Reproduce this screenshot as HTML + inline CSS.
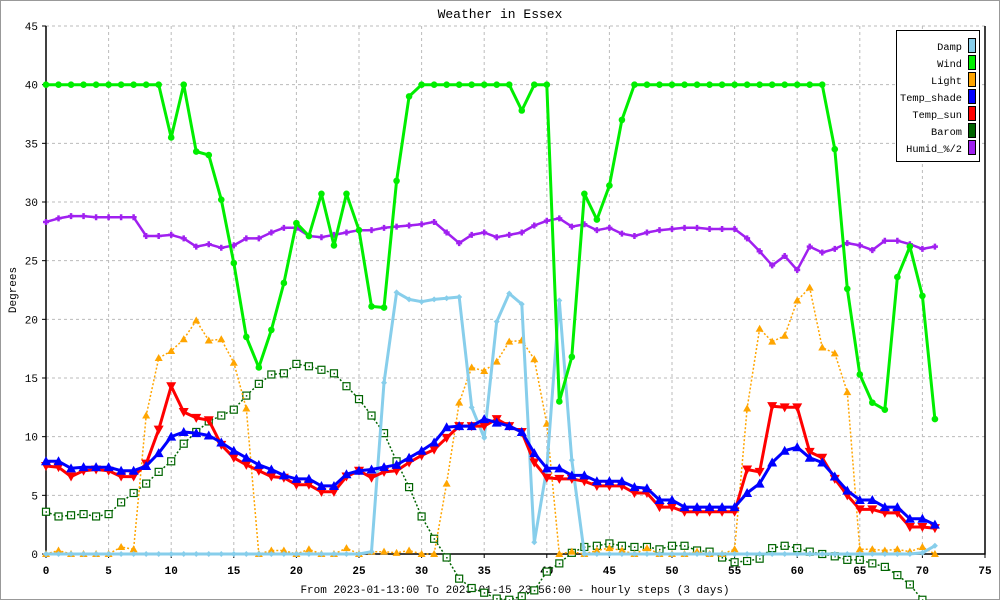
<!DOCTYPE html>
<html><head><meta charset="utf-8"><style>
html,body{margin:0;padding:0;background:#fff}
svg{display:block}
text{font-family:"Liberation Mono","DejaVu Sans Mono",monospace}
</style></head><body>
<svg id="chart" width="1000" height="600" viewBox="0 0 1000 600" xmlns="http://www.w3.org/2000/svg">
<rect x="0.5" y="0.5" width="999" height="599" fill="#fff" stroke="#999"/>
<text x="500" y="18" text-anchor="middle" font-size="13">Weather in Essex</text>
<text x="16" y="290" text-anchor="middle" font-size="11" transform="rotate(-90 16 290)">Degrees</text>
<text x="515" y="593" text-anchor="middle" font-size="11">From 2023-01-13:00 To 2023-01-15 23:56:00 - hourly steps (3 days)</text>
<g id="grid"></g>
<g id="axes"></g>
<g id="series"></g>
<g id="legend"></g>
</svg>
<script>
const xTicks=[0,5,10,15,20,25,30,35,40,45,50,55,60,65,70,75];
const yTicks=[0,5,10,15,20,25,30,35,40,45];
const damp=[0,0,0,0,0,0,0,0,0,0,0,0,0,0,0,0,0,0,0,0,0,0,0,0,0,0,0.2,14.6,22.3,21.7,21.5,21.7,21.8,21.9,12.5,9.9,19.8,22.2,21.3,1.0,7.3,21.6,8.0,0,0,0,0,0,0,0,0,0,0,0,0,0,0,0,0,0,0,0,0,0,0,0,0,0,0,0,0.1,0.7];
const wind=[40,40,40,40,40,40,40,40,40,40,35.5,40,34.3,34,30.2,24.8,18.5,15.9,19.1,23.1,28.2,27.1,30.7,26.3,30.7,27.6,21.1,21,31.8,39,40,40,40,40,40,40,40,40,37.8,40,40,13,16.8,30.7,28.5,31.4,37,40,40,40,40,40,40,40,40,40,40,40,40,40,40,40,40,34.5,22.6,15.3,12.9,12.3,23.6,26.2,22,11.5];
const light=[0,0.3,0,0,0,0,0.6,0.4,11.8,16.7,17.3,18.3,19.9,18.2,18.3,16.3,12.4,0,0.3,0.3,0,0.4,0,0,0.5,0,0.2,0.2,0.1,0.3,0,0,6.0,12.9,15.9,15.6,16.4,18.1,18.2,16.6,11.1,0,0.2,0,0.3,0.5,0.3,0,0.5,0,0,0,0.2,0,0,0.4,12.4,19.2,18.1,18.6,21.6,22.7,17.6,17.1,13.8,0.4,0.4,0.3,0.4,0.2,0.6,0];
const tempShade=[7.9,7.9,7.3,7.4,7.4,7.4,7.1,7.1,7.5,8.6,10.0,10.4,10.3,10.1,9.5,8.8,8.2,7.6,7.2,6.7,6.4,6.4,5.8,5.8,6.8,7.1,7.2,7.4,7.6,8.2,8.8,9.5,10.8,10.9,10.9,11.5,11.2,10.9,10.4,8.6,7.3,7.3,6.7,6.7,6.2,6.2,6.2,5.7,5.6,4.6,4.6,4.0,4.0,4.0,4.0,4.0,5.2,6.0,7.8,8.8,9.1,8.2,7.8,6.6,5.4,4.6,4.6,4.0,4.0,3.0,3.0,2.5];
const tempSun=[7.5,7.4,6.6,7.1,7.2,7.1,6.6,6.6,7.7,10.6,14.3,12.1,11.6,11.4,9.3,8.2,7.6,7.1,6.6,6.5,5.9,5.9,5.3,5.3,6.6,7.1,6.5,7.0,7.1,7.8,8.4,8.9,9.9,10.9,10.9,10.9,11.5,10.9,10.4,7.8,6.5,6.4,6.4,6.2,5.8,5.8,5.8,5.2,5.2,4.0,4.0,3.6,3.6,3.6,3.6,3.6,7.2,7.0,12.6,12.5,12.5,8.7,8.2,6.4,5.0,3.8,3.8,3.5,3.5,2.3,2.3,2.2];
const barom=[3.6,3.2,3.3,3.4,3.2,3.4,4.4,5.2,6.0,7.0,7.9,9.4,10.4,11.3,11.8,12.3,13.5,14.5,15.3,15.4,16.2,16.0,15.7,15.4,14.3,13.2,11.8,10.3,7.9,5.7,3.2,1.3,-0.3,-2.1,-2.9,-3.3,-3.8,-3.9,-3.6,-3.1,-1.5,-0.8,0.1,0.6,0.7,0.9,0.7,0.6,0.6,0.4,0.7,0.7,0.3,0.2,-0.3,-0.7,-0.6,-0.4,0.5,0.7,0.5,0.2,0,-0.2,-0.5,-0.5,-0.8,-1.1,-1.8,-2.6,-3.9,-5.0];
const humid=[28.3,28.6,28.8,28.8,28.7,28.7,28.7,28.7,27.1,27.1,27.2,26.9,26.2,26.4,26.1,26.3,26.9,26.9,27.4,27.8,27.8,27.1,27.0,27.2,27.4,27.6,27.6,27.8,27.9,28.0,28.1,28.3,27.4,26.5,27.2,27.4,27.0,27.2,27.4,28.0,28.4,28.6,27.9,28.1,27.6,27.8,27.3,27.1,27.4,27.6,27.7,27.8,27.8,27.7,27.7,27.7,26.9,25.8,24.6,25.4,24.2,26.2,25.7,26.0,26.5,26.3,25.9,26.7,26.7,26.4,26.0,26.2];
const legendNames=["Damp","Wind","Light","Temp_shade","Temp_sun","Barom","Humid_%/2"];

const NS="http://www.w3.org/2000/svg";
const X0=46,X1=985,Y0=554,Y1=26;
const xs=v=>X0+(X1-X0)*v/75;
const ys=v=>Y0-(Y0-Y1)*v/45;
function mk(tag,attrs,parent){const e=document.createElementNS(NS,tag);for(const k in attrs)e.setAttribute(k,attrs[k]);parent.appendChild(e);return e;}
const grid=document.getElementById('grid'),axes=document.getElementById('axes'),ser=document.getElementById('series'),leg=document.getElementById('legend');
xTicks.forEach(t=>{
  if(t>0&&t<75){const l=mk('line',{x1:xs(t),x2:xs(t),y1:Y1,y2:Y0,stroke:'#bbb','stroke-dasharray':'3,3'},grid);
  
  }
  const tk=mk('line',{x1:xs(t),x2:xs(t),y1:Y0,y2:Y0+4,stroke:'#000'},axes);
  
  
  const tx=mk('text',{x:xs(t),y:Y0+20,'text-anchor':'middle','font-size':'11','font-weight':'bold'},axes);
  tx.textContent=t;
  
  
});
yTicks.forEach(t=>{
  if(t>0){const l=mk('line',{x1:X0,x2:X1,y1:ys(t),y2:ys(t),stroke:'#bbb','stroke-dasharray':'3,3'},grid);
  
  }
  const tk=mk('line',{x1:X0-4,x2:X0,y1:ys(t),y2:ys(t),stroke:'#000'},axes);
  
  
  const tx=mk('text',{x:X0-8,y:ys(t)+4,'text-anchor':'end','font-size':'11'},axes);
  tx.textContent=t;
  
  
});
const ax=mk('path',{d:`M${X0},${Y1} V${Y0} H${X1} V${Y1}`,fill:'none',stroke:'#000','stroke-width':1.5},axes);



function marker(g,kind,x,y,color){
  let e;
  if(kind==='circle')e=mk('circle',{cx:x,cy:y,r:3.3,fill:color},g);
  else if(kind==='up')e=mk('polygon',{points:`${x},${y-5} ${x-5},${y+4} ${x+5},${y+4}`,fill:color},g);
  else if(kind==='down')e=mk('polygon',{points:`${x},${y+5} ${x-5},${y-4} ${x+5},${y-4}`,fill:color},g);
  else if(kind==='tri')e=mk('polygon',{points:`${x},${y-4} ${x-4},${y+3} ${x+4},${y+3}`,fill:color},g);
  else if(kind==='diamond')e=mk('polygon',{points:`${x},${y-3} ${x+3},${y} ${x},${y+3} ${x-3},${y}`,fill:color},g);
  else if(kind==='cross')e=mk('path',{d:`M${x-3},${y}H${x+3}M${x},${y-3}V${y+3}`,stroke:color,'stroke-width':2.5},g);
  else {e=mk('rect',{x:x-3.5,y:y-3.5,width:7,height:7,fill:'#fff',stroke:color,'stroke-width':1.2},g);
    mk('rect',{x:x-0.5,y:y-0.5,width:1.5,height:1.5,fill:color},g);}
  return e;
}
const seriesDefs=[
 {name:'barom',data:barom,color:'#006400',w:1.5,dash:'2,2',m:'square'},
 {name:'light',data:light,color:'#ffa500',w:1.5,dash:'2,2',m:'tri'},
 {name:'humid',data:humid,color:'#a020f0',w:2.5,dash:null,m:'cross'},
 {name:'damp',data:damp,color:'#87ceeb',w:3,dash:null,m:'diamond'},
 {name:'wind',data:wind,color:'#00ee00',w:3,dash:null,m:'circle'},
 {name:'temp-sun',data:tempSun,color:'#ff0000',w:3,dash:null,m:'down'},
 {name:'temp-shade',data:tempShade,color:'#0000ff',w:3,dash:null,m:'up'}
];
seriesDefs.forEach(s=>{
  const g=mk('g',{},ser);
  
  
  const pts=s.data.map((v,i)=>`${xs(i).toFixed(1)},${ys(v).toFixed(1)}`).join(' ');
  const a={points:pts,fill:'none',stroke:s.color,'stroke-width':s.w,'stroke-linejoin':'round'};
  if(s.dash)a['stroke-dasharray']=s.dash;
  const pl=mk('polyline',a,g);
  
  
  s.data.forEach((v,i)=>{
    const m=marker(g,s.m,xs(i),ys(v),s.color);
    
    
  });
});
const legColors=['#87ceeb','#00ee00','#ffa500','#0000ff','#ff0000','#006400','#a020f0'];
const lb=mk('rect',{x:896.5,y:30.5,width:83,height:131,fill:'#fff',stroke:'#000'},leg);


legendNames.forEach((n,i)=>{
  const y=46+i*17;
  const t=mk('text',{x:962,y:y+4,'text-anchor':'end','font-size':'10','textLength':n.length*6.2,'lengthAdjust':'spacingAndGlyphs'},leg);
  t.textContent=n;
  
  
  const r=mk('rect',{x:968.5,y:y-7.5,width:7,height:14,fill:legColors[i],stroke:'#000'},leg);
  
  
});
</script>
</body></html>
